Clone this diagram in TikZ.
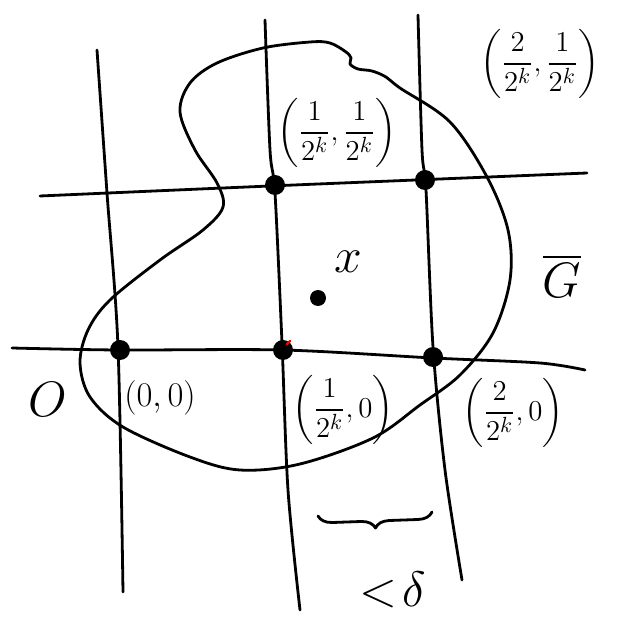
\documentclass[tikz,border=0pt]{standalone}
\usepackage{amsmath}
\usetikzlibrary{positioning,decorations.pathreplacing}
\newcommand{\hk}{2^k}
\begin{document}
\begin{tikzpicture}[x=0.5pt,y=-0.5pt,line width=1.4pt,line cap=round,line join=round,
  pt/.style={circle,fill,inner sep=0pt,minimum size=10pt},
  lbl/.style={inner sep=0pt,font=\fontsize{15}{18}\selectfont},
  big/.style={inner sep=0pt,font=\fontsize{30}{36}\selectfont}]
  \useasboundingbox (0,0) rectangle (621,620);
  % grid lines
  \draw plot[smooth] coordinates {(40,196) (270,186) (587,173)};
  \draw plot[smooth] coordinates {(12,348) (118,350) (283,350) (433,358) (540,363) (585,370)};
  \draw plot[smooth] coordinates {(97,50) (107,193) (118,347) (123,592)};
  \draw plot[smooth] coordinates {(265,20) (270,150) (275,193) (282,343) (288,490) (300,610)};
  \draw plot[smooth] coordinates {(418,15) (422,150) (426,190) (433,347) (445,470) (462,580)};
  % the set G
  \draw plot[smooth cycle,tension=0.55] coordinates {
    (180,112) (190,83) (217,63) (263,48) (310,42) (330,43) (346,52) (351,58)
    (350,64) (358,69) (372,71) (386,77) (400,88) (450,122) (487,177) (508,230)
    (510,280) (493,333) (460,375) (420,405) (373,438) (300,464) (240,470)
    (190,457) (123,427) (90,397) (80,363) (88,330) (110,300) (160,260)
    (203,230) (223,207) (217,183) (195,150)};
  % grid points
  \foreach \n/\x/\y in {o/120/350, a/275/185, b/283/350, c/425/180, d/433/357}
    \node[pt] (\n) at (\x,\y) {};
  \draw[red,line width=1.2pt] (287,344) -- (290,341);
  \node[pt,minimum size=8pt] (x) at (318,298) {};
  % labels
  \node[big] (setO) at (48,399) {$O$};
  \node[lbl,font=\fontsize{19}{22}\selectfont] (lo) at (160,398) {$(0,0)$};
  \node[lbl] (lb) at (343,410) {$\left(\dfrac{1}{\hk},0\right)$};
  \node[lbl] (ld) at (513,413) {$\left(\dfrac{2}{\hk},0\right)$};
  \node[lbl] (la) at (337,133) {$\left(\dfrac{1}{\hk},\dfrac{1}{\hk}\right)$};
  \node[lbl] (lc) at (540,64) {$\left(\dfrac{2}{\hk},\dfrac{1}{\hk}\right)$};
  \node[big] (lx) at (348,262) {$x$};
  \node[big,font=\fontsize{34}{40}\selectfont] (G) at (562,276) {$\overline{G}$};
  % mesh size
  \coordinate (bl) at (318,516);
  \coordinate (br) at (432,512);
  \draw[decorate,decoration={brace,mirror,amplitude=7pt}] (bl) -- (br);
  \node[big] (dl) at (393,590) {$<\!\delta$};
\end{tikzpicture}
\end{document}
